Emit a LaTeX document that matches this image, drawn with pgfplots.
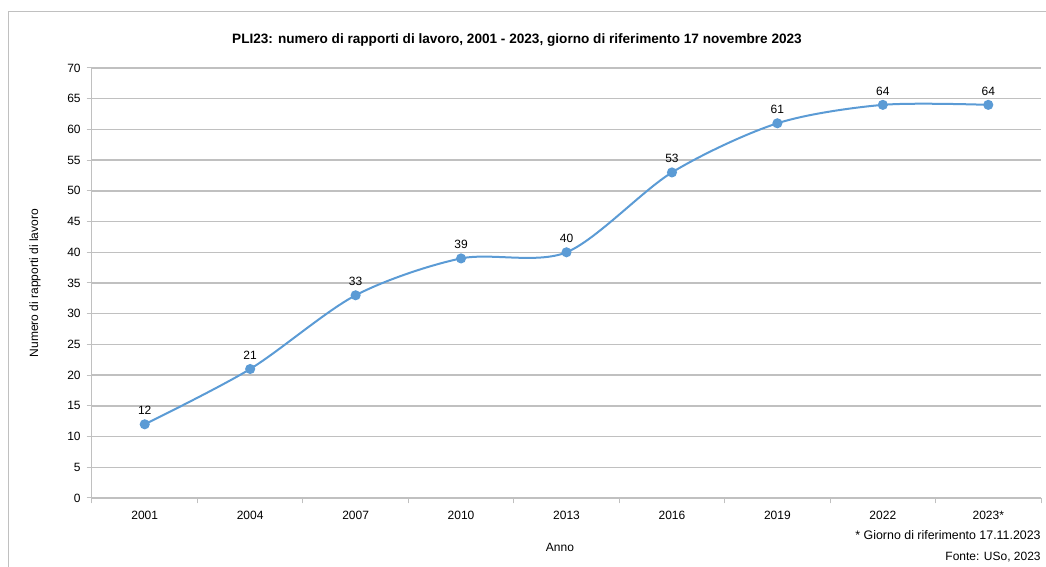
\documentclass[border=0pt]{standalone}
\usepackage{pgfplots}
\pgfplotsset{compat=1.18}
\usepackage{fontspec}
\setmainfont{Liberation Sans}
\definecolor{linec}{HTML}{5B9BD5}
\definecolor{gridc}{HTML}{C0C0C0}
\begin{document}
\begin{tikzpicture}
\clip (-69pt,-51.75pt) rectangle (715.5pt,373.5pt);
\draw[gridc,line width=0.75pt] (-62.25pt,-80pt) -- (-62.25pt,364.5pt) -- (760pt,364.5pt);
\begin{axis}[
  scale only axis,
  width=711.75pt, height=322.5pt,
  xmin=-0.5, xmax=8.5, ymin=0, ymax=70,
  xtick={0,...,8},
  xticklabels={2001,2004,2007,2010,2013,2016,2019,2022,2023*},
  minor xtick={-0.5,0.5,...,8.5},
  ytick={0,5,...,70},
  major x tick style={draw=none},
  minor x tick style={gridc, line width=0.75pt},
  y tick style={gridc, line width=0.75pt},
  tick align=outside,
  major tick length=4pt, minor tick length=4pt,
  ymajorgrids,
  grid style={gridc, line width=1pt},
  axis x line*=bottom, axis y line*=left,
  axis line style={gridc, line width=0.75pt, -},
  tick label style={font=\fontsize{9}{11}\selectfont, text=black},
  /pgf/number format/assume math mode=true,
  xticklabel style={yshift=-2pt},
  yticklabel style={xshift=-1pt},
  clip=false,
  nodes near coords,
  every node near coord/.append style={font=\fontsize{9}{11}\selectfont, text=black, yshift=3pt},
]
\addplot[linec, line width=1.5pt, smooth, tension=0.5, mark=*, mark size=3pt, mark options={fill=linec, draw=linec}]
coordinates {(0,12) (1,21) (2,33) (3,39) (4,40) (5,53) (6,61) (7,64) (8,64)};
\end{axis}
\node[font=\bfseries\fontsize{10.2}{12}\selectfont] at (318.75pt,343.5pt) {PLI23: numero di rapporti di lavoro, 2001 - 2023, giorno di riferimento 17 novembre 2023};
\node[rotate=90, font=\fontsize{9}{11}\selectfont] at (-42.75pt,161.25pt) {Numero di rapporti di lavoro};
\node[font=\fontsize{9}{11}\selectfont] at (351pt,-36.75pt) {Anno};
\node[anchor=east, font=\fontsize{9.3}{11}\selectfont] at (715pt,-27.75pt) {* Giorno di riferimento 17.11.2023};
\node[anchor=east, font=\fontsize{9}{11}\selectfont] at (715pt,-44.25pt) {Fonte: USo, 2023};
\end{tikzpicture}
\end{document}
